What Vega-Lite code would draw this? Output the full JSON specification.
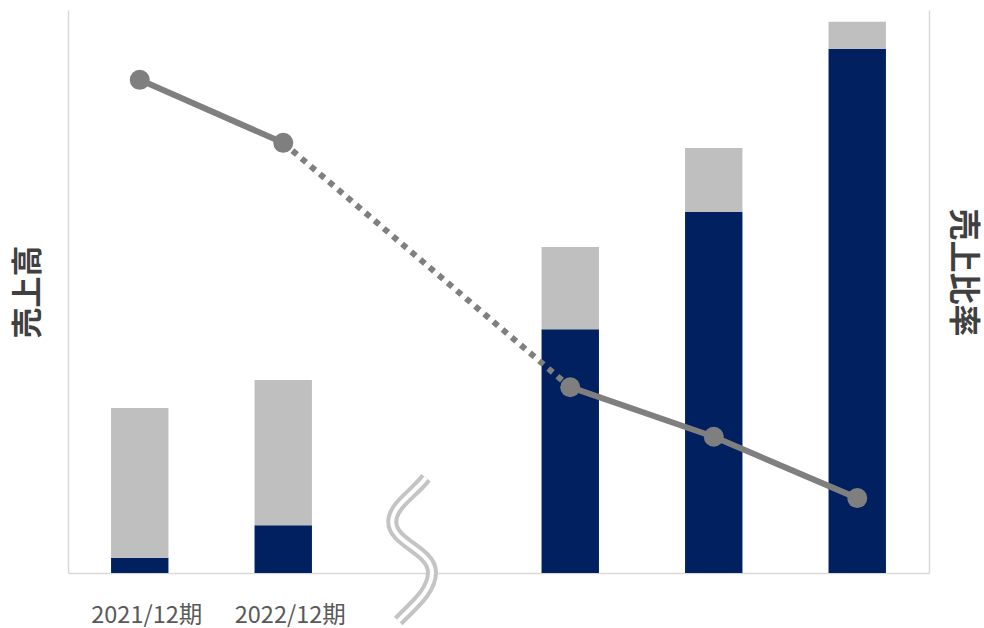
{
  "$schema": "https://vega.github.io/schema/vega-lite/v6.json",
  "autosize": "none",
  "width": 861,
  "height": 563,
  "padding": {"left": 68, "top": 10, "right": 55, "bottom": 55},
  "background": "white",
  "config": {
    "view": {"stroke": null},
    "font": "Noto Sans CJK JP",
    "axis": {"domainColor": "#d9d9d9", "domainWidth": 1.5, "ticks": false, "grid": false, "titleFont": "Noto Sans CJK JP", "labelFont": "Noto Sans CJK JP"}
  },
  "datasets": {
    "bars": [
      {"period": "2021/12期", "series": "系列1", "value": 2.7},
      {"period": "2021/12期", "series": "系列2", "value": 26.6},
      {"period": "2022/12期", "series": "系列1", "value": 8.5},
      {"period": "2022/12期", "series": "系列2", "value": 25.8},
      {"period": "P3", "series": "系列1", "value": 43.3},
      {"period": "P3", "series": "系列2", "value": 14.6},
      {"period": "P4", "series": "系列1", "value": 64.1},
      {"period": "P4", "series": "系列2", "value": 11.4},
      {"period": "P5", "series": "系列1", "value": 93.1},
      {"period": "P5", "series": "系列2", "value": 4.8}
    ],
    "ratio": [
      {"period": "2021/12期", "ratio": 87.6},
      {"period": "2022/12期", "ratio": 76.4},
      {"period": "P3", "ratio": 33.0},
      {"period": "P4", "ratio": 24.2},
      {"period": "P5", "ratio": 13.3}
    ]
  },
  "encoding": {
    "x": {
      "field": "period",
      "type": "nominal",
      "sort": ["2021/12期", "2022/12期", "gap", "P3", "P4", "P5"],
      "scale": {"domain": ["2021/12期", "2022/12期", "gap", "P3", "P4", "P5"], "paddingInner": 0.6, "paddingOuter": 0.3},
      "axis": {
        "title": null,
        "labelAngle": 0,
        "labelFontSize": 23.5,
        "labelColor": "#595959",
        "labelPadding": 30,
        "labelOffset": 7,
        "labelExpr": "datum.label == '2021/12期' || datum.label == '2022/12期' ? datum.label : ''"
      }
    }
  },
  "layer": [
    {
      "data": {"name": "bars"},
      "mark": {"type": "bar"},
      "encoding": {
        "y": {
          "field": "value",
          "type": "quantitative",
          "stack": "zero",
          "scale": {"domain": [0, 100], "nice": false},
          "axis": {"title": "売上高", "orient": "left", "labels": false, "titleFontSize": 31, "titleColor": "#404040", "titleFontWeight": "bold", "titlePadding": 24}
        },
        "color": {
          "field": "series",
          "type": "nominal",
          "scale": {"domain": ["系列1", "系列2"], "range": ["#002060", "#bfbfbf"]},
          "legend": null
        },
        "order": {"field": "series", "sort": "ascending"}
      }
    },
    {
      "data": {"name": "ratio"},
      "transform": [{"filter": {"field": "period", "oneOf": ["2021/12期", "2022/12期"]}}],
      "mark": {"type": "line", "color": "#7f7f7f", "strokeWidth": 6},
      "encoding": {
        "y": {
          "field": "ratio",
          "type": "quantitative",
          "scale": {"domain": [0, 100], "nice": false},
          "axis": {"title": "売上比率", "orient": "right", "labels": false, "titleFontSize": 32, "titleColor": "#404040", "titleFontWeight": "bold", "titlePadding": 16, "titleY": 262}
        }
      }
    },
    {
      "data": {"name": "ratio"},
      "transform": [{"filter": {"field": "period", "oneOf": ["2022/12期", "P3"]}}],
      "mark": {"type": "line", "color": "#7f7f7f", "strokeWidth": 6, "strokeDash": [6, 6], "strokeCap": "butt"},
      "encoding": {
        "y": {"field": "ratio", "type": "quantitative", "scale": {"domain": [0, 100], "nice": false}, "axis": null}
      }
    },
    {
      "data": {"name": "ratio"},
      "transform": [{"filter": {"field": "period", "oneOf": ["P3", "P4", "P5"]}}],
      "mark": {"type": "line", "color": "#7f7f7f", "strokeWidth": 6},
      "encoding": {
        "y": {"field": "ratio", "type": "quantitative", "scale": {"domain": [0, 100], "nice": false}, "axis": null}
      }
    },
    {
      "data": {"name": "ratio"},
      "mark": {"type": "circle", "color": "#7f7f7f", "size": 400, "opacity": 1},
      "encoding": {
        "y": {"field": "ratio", "type": "quantitative", "scale": {"domain": [0, 100], "nice": false}, "axis": null}
      }
    },
    {
      "data": {"values": [{}]},
      "mark": {
        "type": "point",
        "filled": false,
        "opacity": 1,
        "stroke": "#c4c4c4",
        "strokeWidth": 12,
        "size": 22500,
        "shape": "M -0.01 -1.27 C -0.18 -1.05 -0.46 -0.9 -0.46 -0.68 C -0.46 -0.4 0.07 -0.3 0.07 -0.01 C 0.07 0.25 -0.2 0.45 -0.38 0.64"
      },
      "encoding": {
        "x": {"datum": "gap"},
        "y": {"datum": 0, "type": "quantitative", "scale": {"domain": [0, 100], "nice": false}, "axis": null}
      }
    },
    {
      "data": {"values": [{}]},
      "mark": {
        "type": "point",
        "filled": false,
        "opacity": 1,
        "stroke": "white",
        "strokeWidth": 4,
        "size": 22500,
        "shape": "M -0.01 -1.27 C -0.18 -1.05 -0.46 -0.9 -0.46 -0.68 C -0.46 -0.4 0.07 -0.3 0.07 -0.01 C 0.07 0.25 -0.2 0.45 -0.38 0.64"
      },
      "encoding": {
        "x": {"datum": "gap"},
        "y": {"datum": 0, "type": "quantitative", "scale": {"domain": [0, 100], "nice": false}, "axis": null}
      }
    }
  ],
  "resolve": {"scale": {"y": "independent"}}
}
